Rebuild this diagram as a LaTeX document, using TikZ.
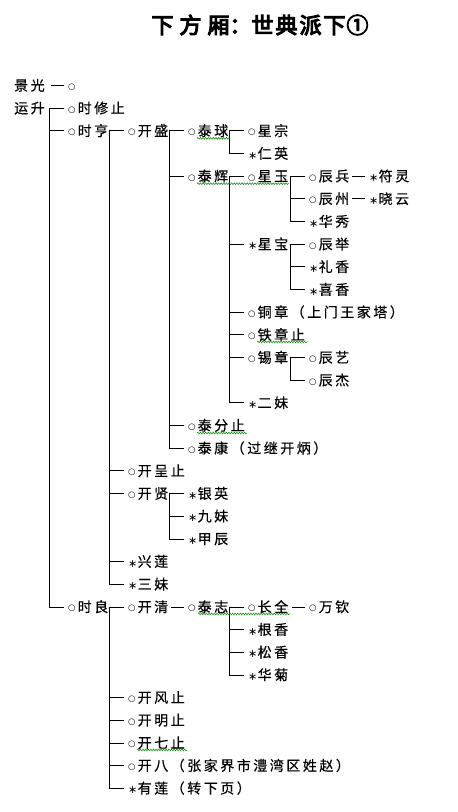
\documentclass[tikz,border=0pt]{standalone}
\usepackage{fontspec}
\usetikzlibrary{decorations.pathmorphing}
\newfontfamily\cjk[LetterSpace=18,FakeBold=0.4]{Noto Sans CJK SC}
\newfontfamily\cjktitle[FakeBold=5]{Noto Sans CJK SC}
\newfontfamily\mkf{DejaVu Sans}
\newcommand\omk{\makebox[9.5pt][l]{\raisebox{1.2pt}{\mkf\fontsize{8.5}{9}\selectfont ○}}}
\newcommand\smk{\makebox[9.5pt][l]{\raisebox{-0.5pt}{\mkf\fontsize{11}{11}\selectfont ∗}}}
\newcommand\ry[1]{85.5+22.67*#1}
\newcommand\tk[1]{\draw[ln] ([xshift=-19pt]#1.west) -- ([xshift=-4pt]#1.west);}
\newcommand\htk[1]{\draw[ln] ([xshift=-17pt]#1.west) -- ([xshift=-4pt]#1.west);}
\newcommand\vl[2]{\draw[ln] ([xshift=-19pt]#1.west) -- ([xshift=-19pt]#2.west);}
\tikzset{
  nm/.style={anchor=west, inner sep=0pt, text height=11pt, text depth=0.7pt, font={\cjk\fontsize{14}{15}\selectfont}},
  ln/.style={line width=0.8pt, line cap=rect},
  wavy/.style={draw=green!55!black, line width=0.5pt, decorate, decoration={snake, amplitude=0.9pt, segment length=2.6pt}}
}
\begin{document}
\begin{tikzpicture}[x=1pt,y=-1pt]
\useasboundingbox (0,0) rectangle (458,812);
\fill[white] (0,0) rectangle (458,812);
% title
\node[inner sep=0pt, font={\cjktitle\fontsize{22}{24}\selectfont}] (title) at (260,25)
  {下\hspace{6pt}方\hspace{6pt}厢\hspace{0pt}：世\hspace{2pt}典\hspace{2pt}派\hspace{2pt}下\hspace{1pt}①};
% roots
\node[nm] (jg) at (14,{\ry{0}}) {景光};
\node[nm] (jg1) at (68,{\ry{0}}) {\omk};
\node[nm] (ys) at (14,{\ry{1}}) {运升};
% level 1
\node[nm] (sxz) at (68,{\ry{1}}) {\omk 时修止};
\node[nm] (sh) at (68,{\ry{2}}) {\omk 时亨};
\node[nm] (sl) at (68,{\ry{23}}) {\omk 时良};
% level 2 under 时亨
\node[nm] (ks) at (128,{\ry{2}}) {\omk 开盛};
\node[nm] (kcz) at (128,{\ry{17}}) {\omk 开呈止};
\node[nm] (kx) at (128,{\ry{18}}) {\omk 开贤};
\node[nm] (xl) at (128,{\ry{21}}) {\smk 兴莲};
\node[nm] (sm) at (128,{\ry{22}}) {\smk 三妹};
% level 3 under 开盛
\node[nm] (tq) at (188,{\ry{2}}) {\omk 泰球};
\node[nm] (th) at (188,{\ry{4}}) {\omk 泰辉};
\node[nm] (tfz) at (188,{\ry{15}}) {\omk 泰分止};
\node[nm] (tk) at (188,{\ry{16}}) {\omk 泰康（过继开炳）};
% level 4 under 泰球
\node[nm] (xz) at (248,{\ry{2}}) {\omk 星宗};
\node[nm] (ry) at (248,{\ry{3}}) {\smk 仁英};
% level 4 under 泰辉
\node[nm] (xy) at (248,{\ry{4}}) {\omk 星玉};
\node[nm] (xb) at (248,{\ry{7}}) {\smk 星宝};
\node[nm] (tz) at (248,{\ry{10}}) {\omk 铜章（上门王家塔）};
\node[nm] (tiez) at (248,{\ry{11}}) {\omk 铁章止};
\node[nm] (xiz) at (248,{\ry{12}}) {\omk 锡章};
\node[nm] (em) at (248,{\ry{14}}) {\smk 二妹};
% level 5
\node[nm] (cb) at (309,{\ry{4}}) {\omk 辰兵};
\node[nm] (cz) at (309,{\ry{5}}) {\omk 辰州};
\node[nm] (hx) at (309,{\ry{6}}) {\smk 华秀};
\node[nm] (cj) at (309,{\ry{7}}) {\omk 辰举};
\node[nm] (lx) at (309,{\ry{8}}) {\smk 礼香};
\node[nm] (xx) at (309,{\ry{9}}) {\smk 喜香};
\node[nm] (cy) at (309,{\ry{12}}) {\omk 辰艺};
\node[nm] (cjie) at (309,{\ry{13}}) {\omk 辰杰};
% level 6
\node[nm] (fl) at (369,{\ry{4}}) {\smk 符灵};
\node[nm] (xyun) at (369,{\ry{5}}) {\smk 晓云};
% under 开贤
\node[nm] (yy) at (188,{\ry{18}}) {\smk 银英};
\node[nm] (jm) at (188,{\ry{19}}) {\smk 九妹};
\node[nm] (jc) at (188,{\ry{20}}) {\smk 甲辰};
% under 时良
\node[nm] (kq) at (128,{\ry{23}}) {\omk 开清};
\node[nm] (kfz) at (128,{\ry{27}}) {\omk 开风止};
\node[nm] (kmz) at (128,{\ry{28}}) {\omk 开明止};
\node[nm] (kqz) at (128,{\ry{29}}) {\omk 开七止};
\node[nm] (kb) at (128,{\ry{30}}) {\omk 开八（张家界市澧湾区姓赵）};
\node[nm] (yl) at (128,{\ry{31}}) {\smk 有莲（转下页）};
\node[nm] (tzh) at (188,{\ry{23}}) {\omk 泰志};
\node[nm] (cq) at (248,{\ry{23}}) {\omk 长全};
\node[nm] (gx) at (248,{\ry{24}}) {\smk 根香};
\node[nm] (sx) at (248,{\ry{25}}) {\smk 松香};
\node[nm] (hj) at (248,{\ry{26}}) {\smk 华菊};
\node[nm] (wq) at (309,{\ry{23}}) {\omk 万钦};
% connectors
\htk{jg1}
\vl{sxz}{sl} \tk{sxz} \tk{sh} \tk{sl}
\vl{ks}{sm} \tk{ks} \tk{kcz} \tk{kx} \tk{xl} \tk{sm}
\vl{tq}{tk} \tk{tq} \tk{th} \tk{tfz} \tk{tk}
\vl{xz}{ry} \tk{xz} \tk{ry}
\vl{xy}{em} \tk{xy} \tk{xb} \tk{tz} \tk{tiez} \tk{xiz} \tk{em}
\vl{cb}{hx} \tk{cb} \tk{cz} \tk{hx}
\htk{fl} \htk{xyun}
\vl{cj}{xx} \tk{cj} \tk{lx} \tk{xx}
\vl{cy}{cjie} \tk{cy} \tk{cjie}
\vl{yy}{jc} \tk{yy} \tk{jm} \tk{jc}
\vl{kq}{yl} \tk{kq} \tk{kfz} \tk{kmz} \tk{kqz} \tk{kb} \tk{yl}
\htk{tzh}
\vl{cq}{hj} \tk{cq} \tk{gx} \tk{sx} \tk{hj}
\htk{wq}
% spell-check underlines
\draw[wavy] (197,{\ry{2}+7.5}) -- (230,{\ry{2}+7.5});
\draw[wavy] (197,{\ry{4}+7.5}) -- (289,{\ry{4}+7.5});
\draw[wavy] (257,{\ry{11}+7}) -- (308,{\ry{11}+7});
\draw[wavy] (197,{\ry{15}+7.5}) -- (247,{\ry{15}+7.5});
\draw[wavy] (198,{\ry{23}+7}) -- (290,{\ry{23}+7});
\draw[wavy] (137,{\ry{29}+7}) -- (187,{\ry{29}+7});
\end{tikzpicture}
\end{document}
